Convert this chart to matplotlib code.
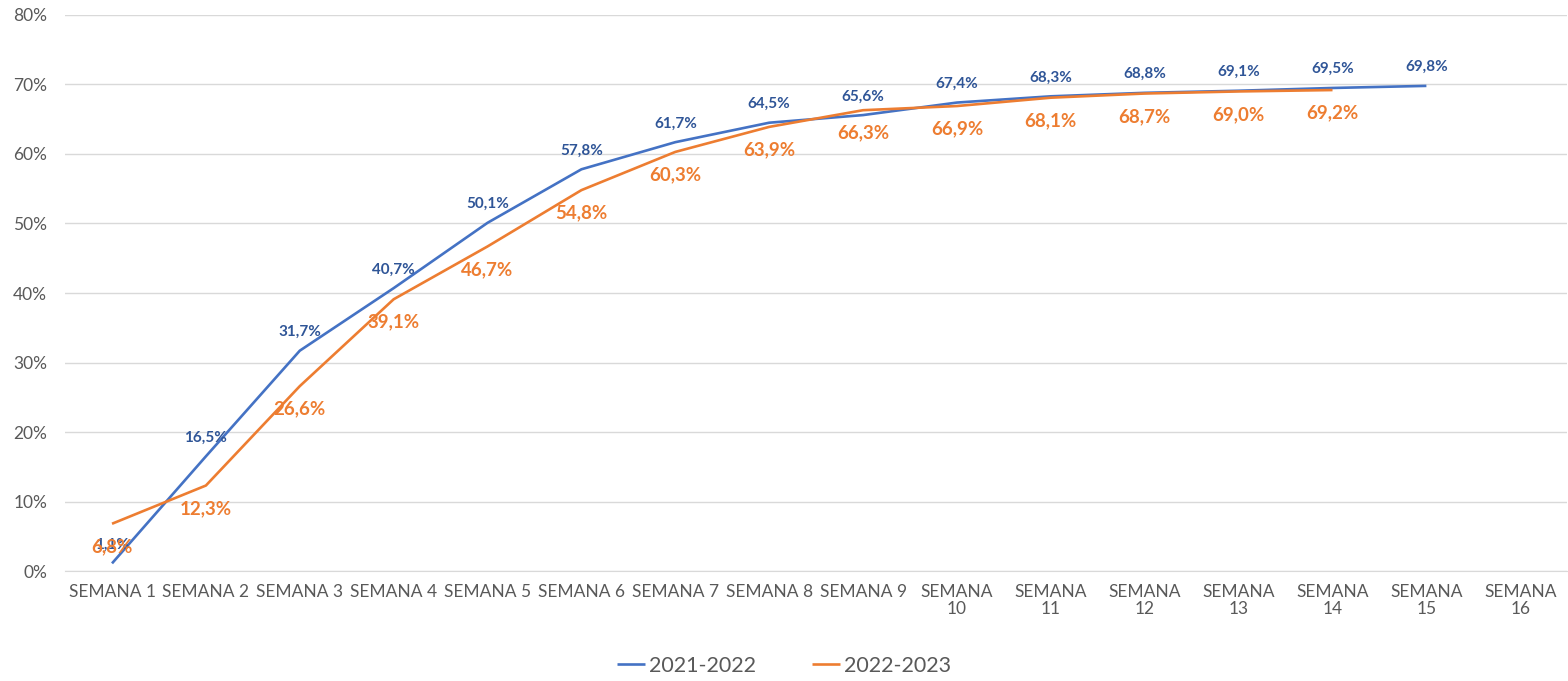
import matplotlib.pyplot as plt
import numpy as np
from matplotlib.ticker import FuncFormatter

plt.rcParams['font.family'] = ['Lato', 'DejaVu Sans']

# datos
semanas = ['SEMANA 1', 'SEMANA 2', 'SEMANA 3', 'SEMANA 4', 'SEMANA 5', 'SEMANA 6',
           'SEMANA 7', 'SEMANA 8', 'SEMANA 9', 'SEMANA\n10', 'SEMANA\n11', 'SEMANA\n12',
           'SEMANA\n13', 'SEMANA\n14', 'SEMANA\n15', 'SEMANA\n16']
s2122 = [1.1, 16.5, 31.7, 40.7, 50.1, 57.8, 61.7, 64.5, 65.6, 67.4, 68.3, 68.8, 69.1, 69.5, 69.8]
s2223 = [6.8, 12.3, 26.6, 39.1, 46.7, 54.8, 60.3, 63.9, 66.3, 66.9, 68.1, 68.7, 69.0, 69.2]

azul = '#4472C4'
azul_txt = '#2F5597'
naranja = '#ED7D31'
gris = '#595959'

fig = plt.figure(figsize=(15.68, 6.81), dpi=100)
ax = fig.add_axes([0.0415, 0.1615, 0.958, 0.8165])

x = np.arange(len(semanas))
ax.plot(x[:len(s2122)], s2122, color=azul, lw=1.9, label='2021-2022', solid_capstyle='butt')
ax.plot(x[:len(s2223)], s2223, color=naranja, lw=1.9, label='2022-2023', solid_capstyle='butt')

for i, v in enumerate(s2122):
    ax.annotate(f'{v:.1f}%'.replace('.', ','), (i, v), xytext=(0, 13.5), textcoords='offset points',
                ha='center', va='center', color=azul_txt, fontsize=11, fontweight='bold')
for i, v in enumerate(s2223):
    ax.annotate(f'{v:.1f}%'.replace('.', ','), (i, v), xytext=(0, -16.5), textcoords='offset points',
                ha='center', va='center', color=naranja, fontsize=13.5, fontweight='bold')

ax.set_xlim(-0.5, len(semanas) - 0.5)
ax.set_ylim(0, 80)
ax.set_yticks(np.arange(0, 81, 10))
ax.yaxis.set_major_formatter(FuncFormatter(lambda v, p: f'{v:.0f}%'))
ax.set_xticks(x)
ax.set_xticklabels(semanas, linespacing=1.15)
ax.tick_params(axis='both', length=0, colors=gris, labelsize=12.5)
ax.tick_params(axis='x', pad=9)
ax.tick_params(axis='y', pad=13)
ax.grid(axis='y', color='#D9D9D9', lw=1)
ax.set_axisbelow(True)
for s in ['top', 'right', 'left']:
    ax.spines[s].set_visible(False)
ax.spines['bottom'].set_color('#D9D9D9')

leg = fig.legend(loc='center', bbox_to_anchor=(0.5, 0.022), ncol=2, frameon=False,
                 fontsize=15.5, handlelength=1.3, handletextpad=0.2, columnspacing=2.6)
for t in leg.get_texts():
    t.set_color(gris)

fig.savefig('out.png', dpi=100)
